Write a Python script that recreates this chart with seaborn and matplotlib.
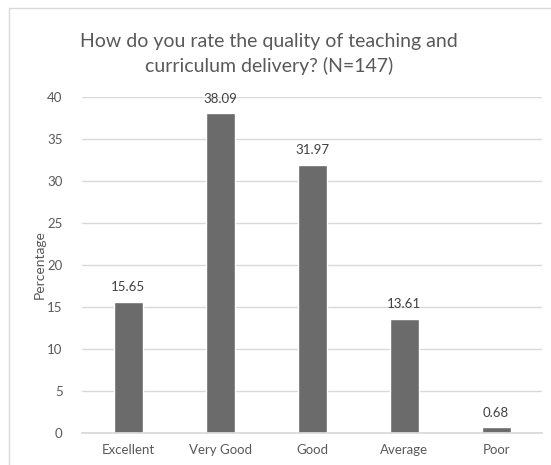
import matplotlib
matplotlib.use("Agg")
import matplotlib.pyplot as plt
import seaborn as sns
import pandas as pd
from matplotlib.patches import Rectangle

categories = ["Excellent", "Very Good", "Good", "Average", "Poor"]
values = [15.65, 38.09, 31.97, 13.61, 0.68]
yticks = [0, 5, 10, 15, 20, 25, 30, 35, 40]

sns.set_theme(style="white")
plt.rcParams['font.family'] = ['Lato', 'DejaVu Sans']

df = pd.DataFrame({"cat": categories, "val": values})
fig = plt.figure(figsize=(5.51, 4.65), dpi=100)
ax = fig.add_axes([0.149, 0.069, 0.835, 0.722])
sns.barplot(data=df, x="cat", y="val", color="#6b6b6b", saturation=1, width=0.315, ax=ax)
ax.set_xlim(-0.5, 4.5)
ax.set_ylim(0, 40)
ax.set_yticks(yticks)
ax.yaxis.grid(True, color="#d9d9d9", linewidth=1)
ax.set_axisbelow(True)
for s in ["top", "right", "left"]:
    ax.spines[s].set_visible(False)
ax.spines["bottom"].set_color("#d9d9d9")
ax.tick_params(axis="both", length=0, colors="#595959", labelsize=9.5)
ax.tick_params(axis="x", pad=8)
ax.tick_params(axis="y", pad=14)
ax.set_xlabel("")
ax.set_ylabel("Percentage", color="#595959", fontsize=10, labelpad=1)
ax.bar_label(ax.containers[0], labels=[f"{v:.2f}" for v in values], padding=6, color="#404040", fontsize=9.5)

fig.text(0.488, 0.884, "How do you rate the quality of teaching and\ncurriculum delivery? (N=147)",
         ha="center", va="center", fontsize=14, color="#595959", linespacing=1.5)
fig.patches.append(Rectangle((0.016, -0.1), 1.2, 1.083, transform=fig.transFigure, fill=False,
                             edgecolor="#d9d9d9", linewidth=1))
fig.savefig("out.png", dpi=100)
